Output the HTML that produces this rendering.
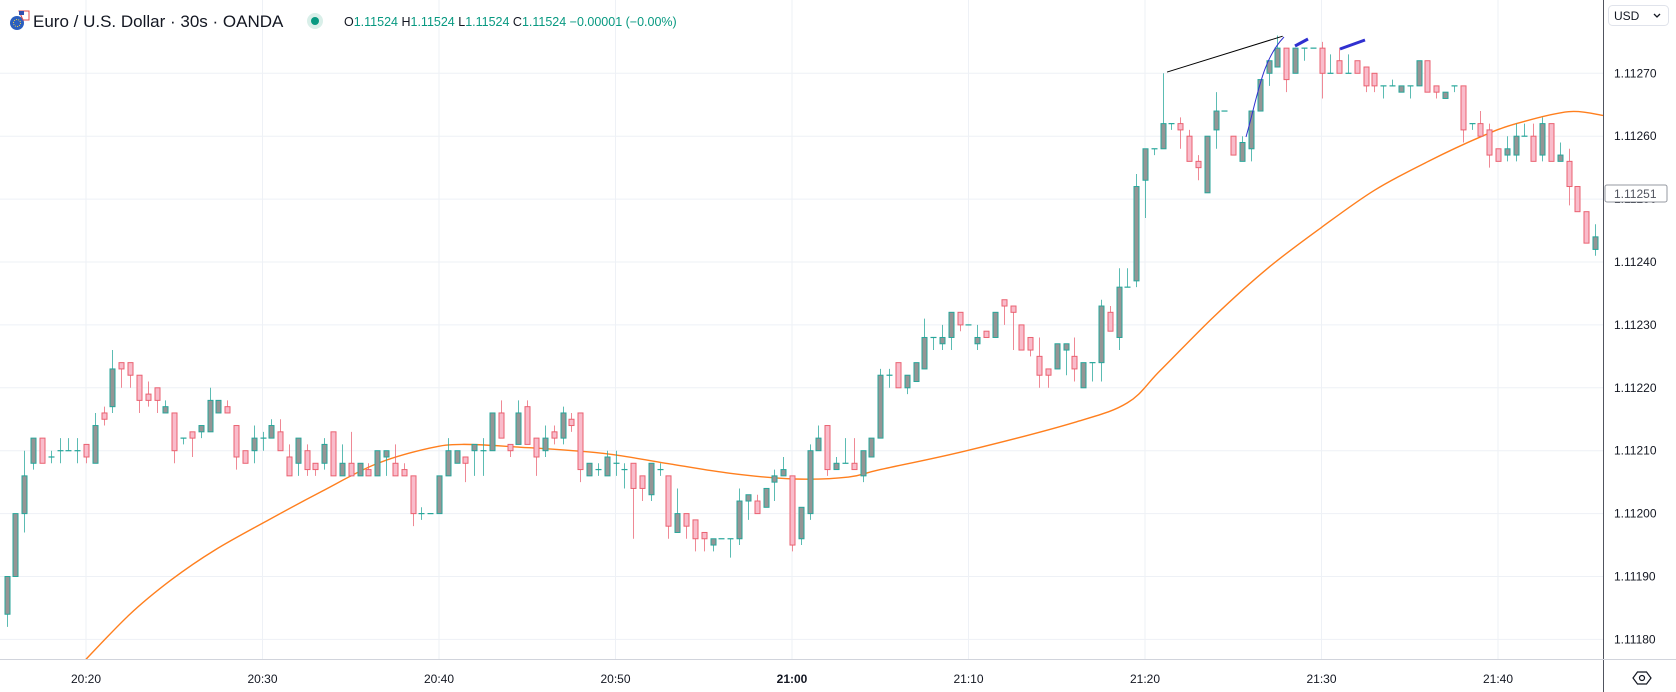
<!DOCTYPE html>
<html><head><meta charset="utf-8">
<style>
html,body{margin:0;padding:0;background:#fff;}
svg{display:block;font-family:"Liberation Sans",sans-serif;}
</style></head>
<body>
<svg id="chart" width="1676" height="692" viewBox="0 0 1676 692" xmlns="http://www.w3.org/2000/svg">
  <rect x="0" y="0" width="1676" height="692" fill="#ffffff"/>
  <g id="grid"></g>
  <g id="ma"></g>
  <g id="candles"></g>
  <g id="draw">
    <line id="trendline" stroke="#000" stroke-width="1"/>
    <path id="bluecurve" fill="none" stroke="#3030d0" stroke-width="1"/>
    <line id="seg1" stroke="#3030d0" stroke-width="3"/>
    <line id="seg2" stroke="#3030d0" stroke-width="3"/>
  </g>
  <rect x="1603" y="0" width="73" height="692" fill="#fff"/>
  <rect x="0" y="659" width="1676" height="33" fill="#fff"/>
  <line x1="1603.5" y1="0" x2="1603.5" y2="692" stroke="#50535e" stroke-width="1"/>
  <line x1="0" y1="659.5" x2="1676" y2="659.5" stroke="#d1d4dc" stroke-width="1"/>
  <g id="yaxis" font-size="12" fill="#131722"></g>
  <g id="xaxis" font-size="12" fill="#131722"></g>
  <g>
    <rect x="1605" y="185" width="62" height="17" fill="#fff" stroke="#9598a1" stroke-width="1" rx="2"/>
    <text x="1614" y="198" font-size="12" fill="#50535e">1.11251</text>
  </g>
  <g>
    <rect x="1608.5" y="5.5" width="60" height="20" rx="4" fill="#fff" stroke="#e0e3eb"/>
    <text x="1614" y="20" font-size="12" fill="#131722">USD</text>
    <path d="M1654 14 l3 3 l3 -3" fill="none" stroke="#131722" stroke-width="1.3"/>
  </g>
  <g transform="translate(1642,678)">
    <path d="M-9 0 L-4.5 -6 L4.5 -6 L9 0 L4.5 6 L-4.5 6 Z" fill="none" stroke="#131722" stroke-width="1.2"/>
    <circle cx="0" cy="0" r="2.5" fill="none" stroke="#131722" stroke-width="1.2"/>
  </g>
  <g>
    <g>
      <circle cx="17" cy="23" r="7" fill="#2b5fbf"/>
      <circle cx="17" cy="23" r="3.5" fill="none" stroke="#f5d142" stroke-width="1" stroke-dasharray="1 1.2"/>
      <path d="M19 11 h10 v9 h-6 z" fill="#fff" stroke="#e04848" stroke-width="1"/>
      <rect x="19" y="11" width="5" height="4" fill="#3050b0"/>
    </g>
    <text x="33" y="27" font-size="17" fill="#131722">Euro / U.S. Dollar · 30s · OANDA</text>
    <circle cx="315" cy="21" r="8" fill="#d9efe9"/>
    <circle cx="315" cy="21" r="4" fill="#089981"/>
    <text x="344" y="26" font-size="12.5" fill="#089981"><tspan fill="#131722">O</tspan>1.11524 <tspan fill="#131722">H</tspan>1.11524 <tspan fill="#131722">L</tspan>1.11524 <tspan fill="#131722">C</tspan>1.11524 −0.00001 (−0.00%)</text>
  </g>
</svg>
<script>
// Price values are in units of 0.00001 above 1.11000 (e.g. 270 = 1.11270)
const opens  = [184,190,200,208,212,209,210,210,210,211,208,216,217,224,224,222,219,220,216,216,212,213,213,213,216,217,214,210,210,212,212,213,209,208,210,208,208,213,206,208,206,207,206,209,208,207,206,200,200,200,206,208,209,210,210,210,216,211,211,217,212,210,213,212,215,216,206,207,206,208,207,208,206,203,207,206,197,200,199,197,195,196,196,196,202,202,201,205,206,206,196,200,210,214,207,208,208,206,209,212,222,224,220,221,223,228,227,228,232,230,227,229,228,234,233,230,228,225,223,223,226,225,220,224,224,232,228,236,237,253,258,258,262,262,260,256,251,261,264,260,256,258,264,270,271,274,270,274,274,274,270,272,270,272,271,270,268,268,267,268,268,272,268,266,268,268,262,262,261,258,257,257,260,260,257,262,256,256,252,248,242];
const highs  = [190,200,210,212,212,210,212,212,212,211,216,217,226,224,224,222,221,220,218,216,212,213,214,220,218,218,214,210,214,213,215,215,211,212,211,208,212,213,211,213,208,208,210,210,211,208,206,201,200,206,212,210,209,211,212,216,218,211,218,218,212,214,214,217,216,216,208,208,210,210,208,208,206,208,208,206,204,200,199,197,196,196,196,204,203,203,204,207,209,206,201,211,214,214,209,212,212,210,212,223,223,224,222,224,231,228,230,232,232,230,230,229,232,234,233,230,228,228,223,227,227,228,224,224,234,233,239,239,254,258,258,270,262,263,261,257,260,267,264,260,260,264,269,272,276,274,274,274,274,275,273,274,273,272,271,270,268,269,268,268,272,272,268,267,268,268,262,264,262,258,260,262,262,262,263,262,259,258,252,248,246];
const lows   = [182,190,197,207,208,208,208,210,208,208,208,214,216,220,220,216,217,216,216,208,211,209,212,213,216,216,207,208,208,210,212,210,206,206,206,206,207,206,206,206,206,206,206,206,206,206,198,199,200,200,206,208,205,206,206,210,212,209,211,211,206,209,211,211,213,205,206,206,206,206,204,196,202,202,206,196,197,196,194,194,194,196,193,195,199,200,201,202,206,194,195,199,210,206,207,208,207,205,209,212,220,220,219,221,223,226,226,226,229,230,226,228,228,230,226,226,225,220,220,223,222,221,220,221,221,229,226,236,236,247,257,258,261,258,256,253,251,258,264,257,256,256,264,268,271,267,270,272,274,266,270,272,270,270,267,267,266,268,267,266,268,267,266,266,267,259,261,260,255,256,256,256,260,256,256,256,256,249,248,243,241];
const closes = [190,200,206,212,208,209,210,210,210,209,214,215,223,223,222,218,218,218,217,210,212,212,214,218,218,216,209,208,212,212,214,210,206,212,207,207,211,206,208,206,208,206,210,210,206,206,200,200,200,206,210,210,208,211,210,216,212,210,216,211,209,212,212,216,214,207,208,207,209,208,207,204,204,208,207,198,200,198,196,196,196,196,196,202,203,200,204,206,207,195,201,210,212,207,208,208,207,210,212,222,222,220,222,224,228,228,228,232,230,230,228,228,232,233,232,226,226,222,222,227,227,223,224,224,233,229,236,236,252,258,258,262,262,261,256,255,260,264,264,257,259,264,269,272,274,269,274,274,274,270,270,270,270,270,268,268,268,268,268,268,272,267,267,267,268,261,262,260,257,256,258,260,260,256,262,256,257,252,248,243,244];
// Moving average read at sampled candle positions
const maIndex = [8.3,13.9,18.7,23.6,29.7,35.8,41.9,47.9,51.6,57.7,67.4,74.7,82,89.3,95.4,99,108.8,121,127,130.7,136.8,142.9,149,155,161.1,167.2,171.1,177,180.9];
const maValue = [175.8,183.9,189.5,194.2,199,203.6,207.9,210.4,211,210.6,209.6,208,206.4,205.5,205.8,207,210,214.5,217.6,222.7,231.3,239,245.5,251.4,256,260,262,263.9,263.3];
const priceTicks = [180,190,200,210,220,230,240,250,260,270];
const priceTickLabels = ["1.11180","1.11190","1.11200","1.11210","1.11220","1.11230","1.11240","1.11250","1.11260","1.11270"];
const timeTickIndex = [9,29,49,69,89,109,129,149,169];
const timeTickLabels = ["20:20","20:30","20:40","20:50","21:00","21:10","21:20","21:30","21:40"];
// Drawings (candle index, price)
const trendIdx = [131.5,144.6];
const trendVal = [270.2,275.9];

const NS = "http://www.w3.org/2000/svg";
const X = i => 86 + (i - 9) * 8.825;
const Y = v => 73.3 + (270 - v) * 6.29;
const PLOT_R = 1603, PLOT_B = 659;

function mk(tag, attrs, parent){
  const e = document.createElementNS(NS, tag);
  for (const k in attrs) e.setAttribute(k, attrs[k]);
  parent.appendChild(e);
  return e;
}

const grid = document.getElementById('grid');
priceTicks.forEach((v) => {
  const l = mk('line', {x1:0, x2:PLOT_R, y1:Y(v), y2:Y(v), stroke:'#eef1f6', 'stroke-width':1}, grid);
  
  
});
timeTickIndex.forEach((i) => {
  const l = mk('line', {x1:X(i), x2:X(i), y1:0, y2:PLOT_B, stroke:'#eef1f6', 'stroke-width':1}, grid);
  
  
});

const yaxis = document.getElementById('yaxis');
priceTicks.forEach((v, k) => {
  const t = mk('text', {x:1614, y:Y(v) + 4}, yaxis);
  t.textContent = priceTickLabels[k];
  
  
});
const xaxis = document.getElementById('xaxis');
timeTickIndex.forEach((i, k) => {
  const t = mk('text', {x:X(i), y:683, 'text-anchor':'middle'}, xaxis);
  if (timeTickLabels[k] === "21:00") t.setAttribute('font-weight', 'bold');
  t.textContent = timeTickLabels[k];
  
  
});

// moving average (smooth Catmull-Rom through sampled points)
const maG = document.getElementById('ma');
const pts = maIndex.map((i, k) => [X(i), Y(maValue[k])]);
let d = 'M' + pts[0][0].toFixed(1) + ' ' + pts[0][1].toFixed(1);
for (let k = 0; k < pts.length - 1; k++) {
  const p0 = pts[Math.max(0, k - 1)], p1 = pts[k], p2 = pts[k + 1], p3 = pts[Math.min(pts.length - 1, k + 2)];
  const c1x = p1[0] + (p2[0] - p0[0]) / 6, c1y = p1[1] + (p2[1] - p0[1]) / 6;
  const c2x = p2[0] - (p3[0] - p1[0]) / 6, c2y = p2[1] - (p3[1] - p1[1]) / 6;
  d += ' C' + c1x.toFixed(1) + ' ' + c1y.toFixed(1) + ',' + c2x.toFixed(1) + ' ' + c2y.toFixed(1) + ',' + p2[0].toFixed(1) + ' ' + p2[1].toFixed(1);
}
const maPath = mk('path', {d:d, fill:'none', stroke:'#ff7f1e', 'stroke-width':1.4, 'stroke-linejoin':'round'}, maG);



const cg = document.getElementById('candles');
const UP_FILL = '#959595', UP_LINE = '#26a69a', DN_FILL = '#f9bccb', DN_LINE = '#ea6271';
opens.forEach((o, i) => {
  const c = closes[i], h = highs[i], l = lows[i];
  const up = c >= o;
  const cx = Math.round(X(i)) + 0.5;
  const g = mk('g', {}, cg);
  
  
  const line = up ? UP_LINE : DN_LINE;
  const w = mk('line', {x1:cx, x2:cx, y1:Y(h), y2:Y(l), stroke:line, 'stroke-width':1, 'stroke-opacity':0.75}, g);
  
  
  const top = Y(Math.max(o, c)), bot = Y(Math.min(o, c));
  if (bot - top < 1.5) {
    const b = mk('line', {x1:cx - 3, x2:cx + 3, y1:top, y2:top, stroke:line, 'stroke-width':1.2}, g);
    
    
  } else {
    const b = mk('rect', {x:cx - 2.5, y:top, width:5, height:bot - top, fill:up ? UP_FILL : DN_FILL, stroke:line, 'stroke-width':1}, g);
    
    
  }
});

const tl = document.getElementById('trendline');
tl.setAttribute('x1', X(trendIdx[0])); tl.setAttribute('y1', Y(trendVal[0]));
tl.setAttribute('x2', X(trendIdx[1])); tl.setAttribute('y2', Y(trendVal[1]));
document.getElementById('bluecurve').setAttribute('d', 'M1246 137 C1258 95, 1262 60, 1284 37');
const s1 = document.getElementById('seg1');
s1.setAttribute('x1', 1295); s1.setAttribute('y1', 46); s1.setAttribute('x2', 1308); s1.setAttribute('y2', 39);
const s2 = document.getElementById('seg2');
s2.setAttribute('x1', 1340); s2.setAttribute('y1', 49); s2.setAttribute('x2', 1365); s2.setAttribute('y2', 40);
</script>
</body></html>
